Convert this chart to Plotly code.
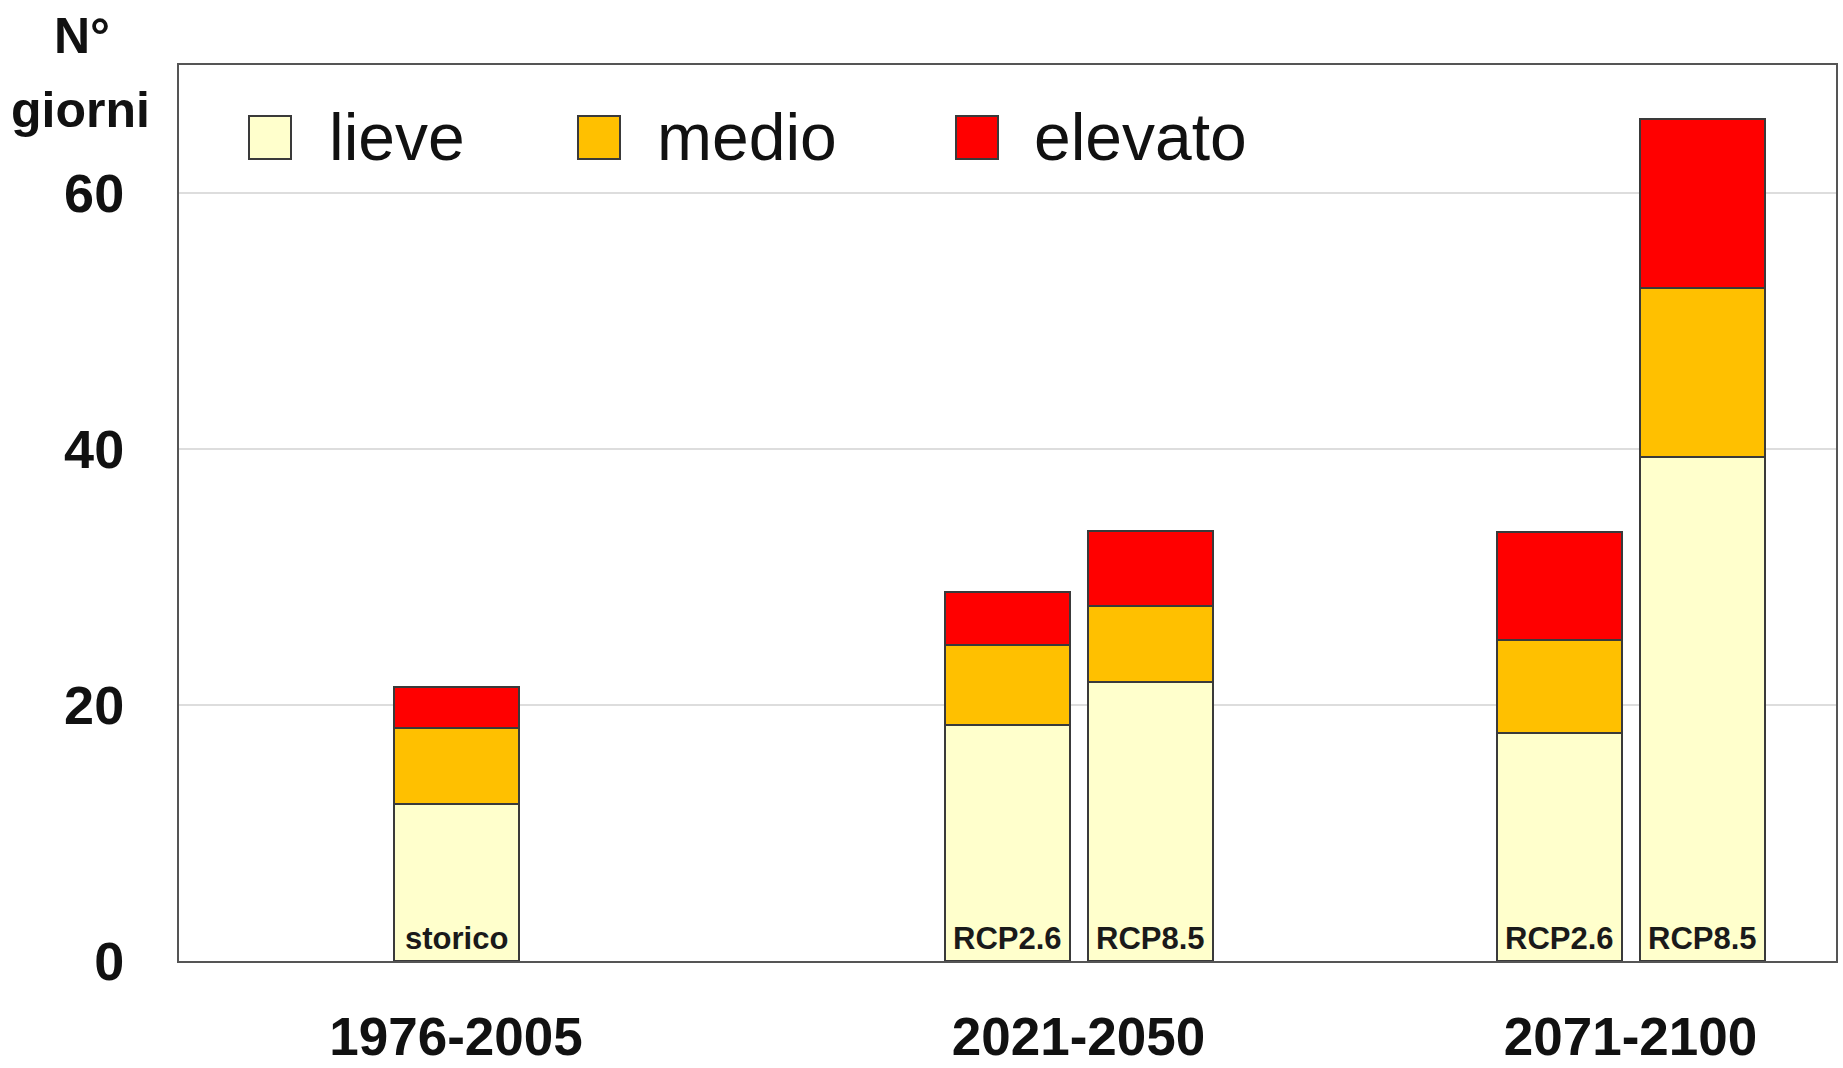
import plotly.graph_objects as go

# Giorni per classe di disagio, per periodo e scenario
periodi = ["1976-2005", "2021-2050", "2071-2100"]
scenari = ["storico", "RCP2.6", "RCP8.5", "RCP2.6", "RCP8.5"]
periodo_di_barra = [0, 1, 1, 2, 2]
lieve = [12.3, 18.4, 21.8, 17.8, 39.4]
medio = [5.9, 6.3, 5.9, 7.3, 13.2]
elevato = [3.2, 4.1, 5.9, 8.4, 13.2]

classi = ["lieve", "medio", "elevato"]
colori = ["#FFFFCC", "#FFC000", "#FF0000"]
y_ticks = [0, 20, 40, 60]

# layout geometry (x axis in bar-width units)
W, H = 1843, 1068
L, R, T, B = 179, 7, 65, 107
centri_gruppo = [2.216, 7.196, 11.612]
passo = 0.572
x_barre = []
for i, g in enumerate(periodo_di_barra):
    membri = [j for j, gg in enumerate(periodo_di_barra) if gg == g]
    k = membri.index(i)
    x_barre.append(centri_gruppo[g] + (k - (len(membri) - 1) / 2) * 2 * passo)

fig = go.Figure()
for nome, valori, col in zip(classi, [lieve, medio, elevato], colori):
    fig.add_trace(go.Bar(
        x=x_barre, y=valori, name=nome, width=1.0,
        marker=dict(color=col, line=dict(color="#3a3a3a", width=2)),
        showlegend=False,
    ))

# scenario labels at the bottom of each bar
for xb, s in zip(x_barre, scenari):
    fig.add_annotation(x=xb, y=0, yshift=3, text=f"<b>{s}</b>", showarrow=False,
                       yanchor="bottom", xanchor="center",
                       font=dict(family="Liberation Sans", size=31, color="#1a1a1a"))

# legend drawn as boxes + text
pw, ph = W - L - R, H - T - B
def px(x):
    return (x - L) / pw
def py(y):
    return (H - B - y) / ph

leg_box_x = [249, 578, 956]
leg_txt_x = [327, 655, 1032]
for bx, tx, nome, col in zip(leg_box_x, leg_txt_x, classi, colori):
    fig.add_shape(type="rect", xref="paper", yref="paper",
                  x0=px(bx), x1=px(bx + 42), y0=py(159), y1=py(116),
                  fillcolor=col, line=dict(color="#3a3a3a", width=2))
    fig.add_annotation(xref="paper", yref="paper", x=px(tx), y=py(137),
                       text=nome, showarrow=False, xanchor="left", yanchor="middle",
                       font=dict(family="Liberation Sans", size=66, color="#111111"))

# y-axis title
fig.add_annotation(xref="paper", yref="paper", x=px(82), y=py(36), text="<b>N°</b>",
                   showarrow=False, xanchor="center", yanchor="middle",
                   font=dict(family="Liberation Sans", size=50, color="#111111"))
fig.add_annotation(xref="paper", yref="paper", x=px(80), y=py(110), text="<b>giorni</b>",
                   showarrow=False, xanchor="center", yanchor="middle",
                   font=dict(family="Liberation Sans", size=50, color="#111111"))

fig.update_layout(
    width=W, height=H,
    margin=dict(l=L, r=R, t=T, b=B),
    barmode="stack",
    plot_bgcolor="white", paper_bgcolor="white",
    xaxis=dict(range=[0, pw / 125.0], tickvals=centri_gruppo,
               ticktext=[f"<b>{p}</b>" for p in periodi],
               showgrid=False, zeroline=False, automargin=False,
               showline=True, mirror=True, linecolor="#555555", linewidth=2,
               ticks="", ticklabelstandoff=28,
               tickfont=dict(family="Liberation Sans", size=53, color="#111111")),
    yaxis=dict(range=[0, 70], tickvals=y_ticks,
               ticktext=[f"<b>{v}</b>" for v in y_ticks],
               showgrid=True, gridcolor="#dddddd", gridwidth=1.5, zeroline=False,
               automargin=False,
               showline=True, mirror=True, linecolor="#555555", linewidth=2,
               ticks="", ticklabelstandoff=42,
               tickfont=dict(family="Liberation Sans", size=54, color="#111111")),
)

fig.write_html("out.html")
